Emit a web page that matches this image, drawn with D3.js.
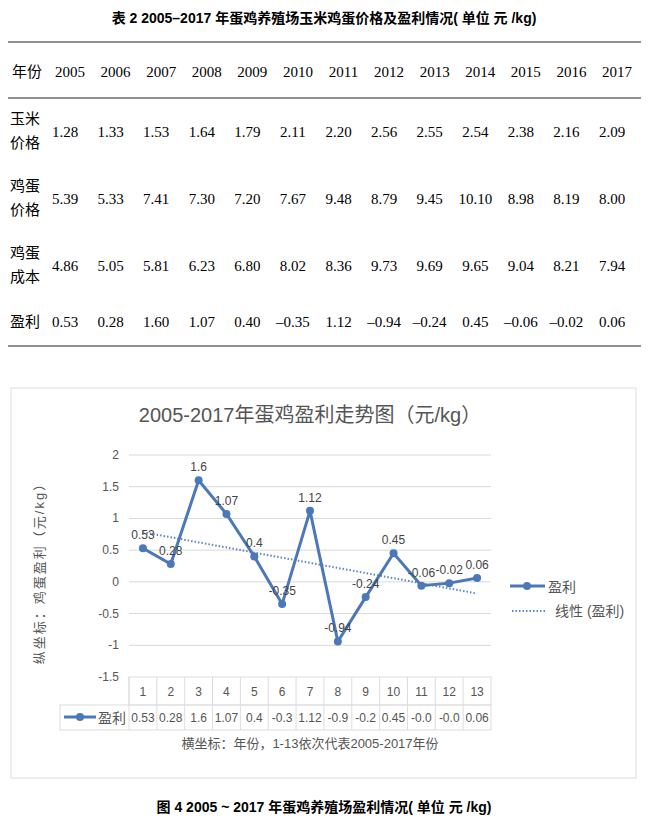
<!DOCTYPE html>
<meta charset="utf-8">
<script src="https://d3js.org/d3.v7.min.js"></script>
<style>
body{margin:0;background:#fff;}
text{font-family:"Liberation Serif","Noto Sans CJK SC",serif;}
.c text{font-family:"Liberation Sans Narrow","Liberation Sans","Noto Sans CJK SC",sans-serif;}
</style>
<div id="chart"></div>
<script>
// data
var years = ["2005","2006","2007","2008","2009","2010","2011","2012","2013","2014","2015","2016","2017"];
var cornPrice = ["1.28","1.33","1.53","1.64","1.79","2.11","2.20","2.56","2.55","2.54","2.38","2.16","2.09"];
var eggPrice  = ["5.39","5.33","7.41","7.30","7.20","7.67","9.48","8.79","9.45","10.10","8.98","8.19","8.00"];
var eggCost   = ["4.86","5.05","5.81","6.23","6.80","8.02","8.36","9.73","9.69","9.65","9.04","8.21","7.94"];
var profitTxt = ["0.53","0.28","1.60","1.07","0.40","\u20130.35","1.12","\u20130.94","\u20130.24","0.45","\u20130.06","\u20130.02","0.06"];
var profit = [0.53,0.28,1.6,1.07,0.4,-0.35,1.12,-0.94,-0.24,0.45,-0.06,-0.02,0.06];
var tableProfit = ["0.53","0.28","1.6","1.07","0.4","-0.3","1.12","-0.9","-0.2","0.45","-0.0","-0.0","0.06"];
var yTicks = [2,1.5,1,0.5,0,-0.5,-1,-1.5];
var cats = d3.range(1,14);

var svg = d3.select("#chart").append("svg").attr("width",649).attr("height",836);

// ---- table 2 ----
svg.append("text").attr("x",324).attr("y",23).attr("text-anchor","middle")
  .style("font-size","14px").style("font-weight","bold").style("font-family","Liberation Sans,Noto Sans CJK SC")
  .text("表 2   2005–2017 年蛋鸡养殖场玉米鸡蛋价格及盈利情况( 单位  元 /kg)");
[42,98,346].forEach(function(y){
  svg.append("line").attr("x1",8).attr("x2",641).attr("y1",y).attr("y2",y).attr("stroke","#222").attr("stroke-width",1.2);
});
var tx = d3.scalePoint().domain(years).range([70,617]);
svg.append("text").attr("x",12).attr("y",77).style("font-size","15px").text("年份");
years.forEach(function(d){ svg.append("text").attr("x",tx(d)).attr("y",77).attr("text-anchor","middle").style("font-size","15px").text(d); });
var rows = [
  {label:["玉米","价格"], y:132, vals:cornPrice},
  {label:["鸡蛋","价格"], y:199, vals:eggPrice},
  {label:["鸡蛋","成本"], y:266, vals:eggCost},
  {label:["盈利"], y:322, vals:profitTxt}
];
rows.forEach(function(r){
  var yy = r.y;
  if (r.label.length==2){
    svg.append("text").attr("x",10).attr("y",yy-8).style("font-size","15px").text(r.label[0]);
    svg.append("text").attr("x",10).attr("y",yy+16).style("font-size","15px").text(r.label[1]);
  } else {
    svg.append("text").attr("x",10).attr("y",yy+5).style("font-size","15px").text(r.label[0]);
  }
  r.vals.forEach(function(v,i){
    svg.append("text").attr("x",tx(years[i])-5).attr("y",yy+5).attr("text-anchor","middle").style("font-size","15px").text(v);
  });
});

// ---- chart ----
var g = svg.append("g").attr("class","c");
g.append("rect").attr("x",11).attr("y",388).attr("width",625).attr("height",390).attr("fill","#fff").attr("stroke","#ddd");
g.append("text").attr("x",310).attr("y",422).attr("text-anchor","middle").style("font-size","20px").attr("fill","#555")
  .text("2005-2017年蛋鸡盈利走势图（元/kg）");

var x = d3.scaleBand().domain(cats).range([129,491]);
var y = d3.scaleLinear().domain([-1.5,2]).range([677,455]);
var col = "#4a78b8";

yTicks.forEach(function(t){
  if (t>-1.5) g.append("line").attr("x1",129).attr("x2",491).attr("y1",y(t)).attr("y2",y(t)).attr("stroke","#d9d9d9");
  g.append("text").attr("x",119).attr("y",y(t)+4).attr("text-anchor","end").style("font-size","12px").attr("fill","#555").text(t);
});

// linear trend
var mx = d3.mean(cats), my = d3.mean(profit);
var b = d3.sum(cats,function(c,i){return (c-mx)*(profit[i]-my);})/d3.sum(cats,function(c){return (c-mx)*(c-mx);});
var a = my - b*mx;
var cx = function(c){ return x(c)+x.bandwidth()/2; };
g.append("line").attr("x1",cx(1)).attr("x2",cx(13)).attr("y1",y(a+b)).attr("y2",y(a+13*b))
  .attr("stroke","#5b86c4").attr("stroke-width",2).attr("stroke-dasharray","1.5,2");

var line = d3.line().x(function(d,i){return cx(cats[i]);}).y(function(d){return y(d);});
g.append("path").datum(profit).attr("d",line).attr("fill","none").attr("stroke",col).attr("stroke-width",3);
g.selectAll("circle.pt").data(profit).enter().append("circle").attr("class","pt")
  .attr("cx",function(d,i){return cx(cats[i]);}).attr("cy",function(d){return y(d);}).attr("r",4).attr("fill",col);
g.selectAll("text.lb").data(profit).enter().append("text").attr("class","lb")
  .attr("x",function(d,i){return cx(cats[i]);}).attr("y",function(d){return y(d)-9;})
  .attr("text-anchor","middle").style("font-size","12px").attr("fill","#444").text(function(d){return d;});

// data table under axis
var tl = 60, tr = 491, t1 = 677, t2 = 705, t3 = 730;
g.append("rect").attr("x",x.range()[0]).attr("y",t1).attr("width",tr-x.range()[0]).attr("height",t2-t1).attr("fill","none").attr("stroke","#ddd");
g.append("rect").attr("x",tl).attr("y",t2).attr("width",tr-tl).attr("height",t3-t2).attr("fill","none").attr("stroke","#ddd");
cats.forEach(function(c,i){
  g.append("line").attr("x1",x(c)).attr("x2",x(c)).attr("y1",t1).attr("y2",t3).attr("stroke","#ddd");
  g.append("text").attr("x",cx(c)).attr("y",696).attr("text-anchor","middle").style("font-size","12px").attr("fill","#555").text(c);
  g.append("text").attr("x",cx(c)).attr("y",722).attr("text-anchor","middle").style("font-size","12px").attr("fill","#555").text(tableProfit[i]);
});
g.append("line").attr("x1",64).attr("x2",96).attr("y1",717).attr("y2",717).attr("stroke",col).attr("stroke-width",3);
g.append("circle").attr("cx",80).attr("cy",717).attr("r",4).attr("fill",col);
g.append("text").attr("x",98).attr("y",723).style("font-size","14px").attr("fill","#555").text("盈利");

g.append("text").attr("x",310).attr("y",748).attr("text-anchor","middle").style("font-size","13px").attr("fill","#555")
  .text("横坐标：年份，1-13依次代表2005-2017年份");
g.append("text").attr("transform","translate(44,570) rotate(-90)").attr("text-anchor","middle").style("font-size","13px")
  .style("letter-spacing","2px").attr("fill","#555")
  .text("纵坐标：鸡蛋盈利（元/kg）");

// legend
g.append("line").attr("x1",510).attr("x2",545).attr("y1",586).attr("y2",586).attr("stroke",col).attr("stroke-width",3);
g.append("circle").attr("cx",527).attr("cy",586).attr("r",4).attr("fill",col);
g.append("text").attr("x",548).attr("y",592).style("font-size","14px").attr("fill","#555").text("盈利");
g.append("line").attr("x1",512).attr("x2",545).attr("y1",611).attr("y2",611).attr("stroke","#5b86c4").attr("stroke-width",2).attr("stroke-dasharray","1.5,2");
g.append("text").attr("x",555).attr("y",616).style("font-size","14px").attr("fill","#555").text("线性 (盈利)");

svg.append("text").attr("x",324).attr("y",812).attr("text-anchor","middle")
  .style("font-size","14px").style("font-weight","bold").style("font-family","Liberation Sans,Noto Sans CJK SC")
  .text("图 4   2005 ~ 2017 年蛋鸡养殖场盈利情况( 单位  元 /kg)");
</script>
